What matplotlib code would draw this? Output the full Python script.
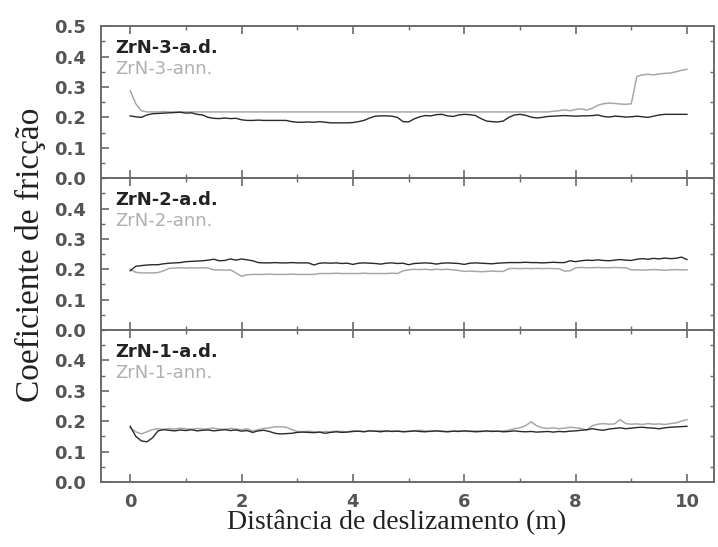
import numpy as np
import matplotlib
matplotlib.use("Agg")
import matplotlib.pyplot as plt
from matplotlib.ticker import MultipleLocator

# distancia de deslizamento (m), amostrada a cada 0.1 m
distancia = np.linspace(0, 10, 101)

# --- ZrN-3 ---
zrn3_ad = [0.205, 0.202, 0.200, 0.208, 0.212, 0.213, 0.214, 0.215, 0.216, 0.217,
           0.214, 0.215, 0.210, 0.208, 0.200, 0.197, 0.196, 0.198, 0.196, 0.197,
           0.192, 0.190, 0.190, 0.191, 0.190, 0.190, 0.190, 0.190, 0.190, 0.186,
           0.184, 0.184, 0.185, 0.184, 0.186, 0.184, 0.182, 0.182, 0.182, 0.182,
           0.183, 0.186, 0.190, 0.198, 0.204, 0.205, 0.205, 0.204, 0.200, 0.186,
           0.185, 0.195, 0.202, 0.206, 0.205, 0.209, 0.210, 0.205, 0.203, 0.208,
           0.210, 0.209, 0.206, 0.196, 0.188, 0.186, 0.185, 0.188, 0.200, 0.208,
           0.210, 0.207, 0.201, 0.198, 0.200, 0.203, 0.204, 0.205, 0.206, 0.205,
           0.204, 0.205, 0.205, 0.206, 0.208, 0.203, 0.201, 0.204, 0.203, 0.201,
           0.202, 0.204, 0.202, 0.200, 0.204, 0.208, 0.210, 0.210, 0.210, 0.210,
           0.210]
zrn3_ann = [0.288, 0.245, 0.222, 0.218, 0.218, 0.218, 0.219, 0.218, 0.218, 0.218,
            0.218, 0.218, 0.218, 0.218, 0.218, 0.218, 0.218, 0.218, 0.218, 0.218,
            0.218, 0.218, 0.218, 0.218, 0.218, 0.218, 0.218, 0.218, 0.218, 0.218,
            0.218, 0.218, 0.218, 0.218, 0.218, 0.218, 0.218, 0.218, 0.218, 0.218,
            0.218, 0.218, 0.218, 0.218, 0.218, 0.218, 0.218, 0.218, 0.218, 0.218,
            0.218, 0.218, 0.218, 0.218, 0.218, 0.218, 0.218, 0.218, 0.218, 0.218,
            0.218, 0.218, 0.218, 0.218, 0.218, 0.218, 0.218, 0.218, 0.218, 0.218,
            0.218, 0.218, 0.218, 0.218, 0.218, 0.218, 0.220, 0.222, 0.225, 0.222,
            0.226, 0.228, 0.224, 0.230, 0.240, 0.245, 0.247, 0.246, 0.244, 0.243,
            0.245, 0.335, 0.340, 0.342, 0.340, 0.343, 0.345, 0.346, 0.350, 0.355,
            0.358]

# --- ZrN-2 ---
zrn2_ad = [0.195, 0.210, 0.212, 0.214, 0.215, 0.215, 0.218, 0.220, 0.221, 0.222,
           0.225, 0.226, 0.227, 0.228, 0.230, 0.233, 0.228, 0.229, 0.234, 0.230,
           0.234, 0.231, 0.228, 0.222, 0.221, 0.221, 0.222, 0.221, 0.221, 0.222,
           0.221, 0.221, 0.221, 0.214, 0.220, 0.221, 0.220, 0.221, 0.219, 0.220,
           0.216, 0.220, 0.221, 0.220, 0.219, 0.217, 0.220, 0.221, 0.219, 0.220,
           0.215, 0.219, 0.220, 0.221, 0.220, 0.217, 0.220, 0.221, 0.220, 0.219,
           0.216, 0.220, 0.221, 0.220, 0.219, 0.218, 0.220, 0.221, 0.222, 0.222,
           0.222, 0.223, 0.222, 0.222, 0.221, 0.222, 0.223, 0.222, 0.222, 0.228,
           0.225, 0.228, 0.230, 0.229, 0.231, 0.229, 0.228, 0.230, 0.232, 0.230,
           0.229, 0.233, 0.235, 0.233, 0.236, 0.234, 0.237, 0.235, 0.236, 0.240,
           0.232]
zrn2_ann = [0.200, 0.190, 0.188, 0.188, 0.188, 0.189, 0.195, 0.203, 0.204, 0.205,
            0.204, 0.205, 0.204, 0.205, 0.204, 0.198, 0.198, 0.197, 0.198, 0.188,
            0.177, 0.182, 0.183, 0.183, 0.183, 0.184, 0.183, 0.183, 0.183, 0.184,
            0.183, 0.183, 0.183, 0.183, 0.186, 0.186, 0.186, 0.187, 0.186, 0.186,
            0.186, 0.186, 0.187, 0.186, 0.186, 0.186, 0.186, 0.187, 0.186, 0.195,
            0.198, 0.200, 0.199, 0.200, 0.198, 0.200, 0.199, 0.200, 0.198, 0.196,
            0.193, 0.194, 0.193, 0.192, 0.193, 0.194, 0.193, 0.193, 0.202, 0.203,
            0.202, 0.203, 0.202, 0.203, 0.202, 0.203, 0.202, 0.202, 0.194, 0.195,
            0.205, 0.206, 0.205, 0.205, 0.206, 0.205, 0.205, 0.206, 0.205, 0.205,
            0.198, 0.198, 0.197, 0.198, 0.199, 0.198, 0.197, 0.198, 0.199, 0.198,
            0.198]

# --- ZrN-1 ---
zrn1_ad = [0.183, 0.150, 0.135, 0.132, 0.145, 0.168, 0.172, 0.170, 0.168, 0.171,
           0.169, 0.172, 0.168, 0.170, 0.171, 0.168, 0.170, 0.172, 0.169, 0.171,
           0.167, 0.169, 0.163, 0.168, 0.170, 0.166, 0.160, 0.158, 0.159, 0.160,
           0.163, 0.164, 0.163, 0.162, 0.164, 0.160, 0.163, 0.165, 0.163, 0.164,
           0.166, 0.167, 0.165, 0.168, 0.167, 0.165, 0.168, 0.166, 0.167, 0.165,
           0.166, 0.168, 0.166, 0.165, 0.167, 0.168, 0.166, 0.165, 0.167, 0.166,
           0.168, 0.167, 0.165, 0.166, 0.168, 0.166, 0.167, 0.165, 0.166, 0.168,
           0.166, 0.165, 0.166, 0.164, 0.165, 0.166, 0.164, 0.166, 0.165, 0.167,
           0.168, 0.170, 0.172, 0.175, 0.172, 0.170, 0.174, 0.176, 0.178, 0.175,
           0.177, 0.179, 0.180, 0.178, 0.177, 0.175, 0.178, 0.180, 0.181, 0.182,
           0.183]
zrn1_ann = [0.178, 0.165, 0.158, 0.165, 0.172, 0.175, 0.173, 0.176, 0.174, 0.177,
            0.175, 0.173, 0.176, 0.174, 0.175, 0.177, 0.174, 0.173, 0.176, 0.174,
            0.172, 0.175, 0.168, 0.172, 0.176, 0.178, 0.181, 0.182, 0.180, 0.172,
            0.166, 0.165, 0.167, 0.165, 0.164, 0.166, 0.165, 0.167, 0.166, 0.165,
            0.168, 0.167, 0.166, 0.168, 0.167, 0.169, 0.166, 0.167, 0.168, 0.166,
            0.167, 0.168, 0.170, 0.168, 0.166, 0.167, 0.168, 0.166, 0.167, 0.168,
            0.167, 0.166, 0.168, 0.167, 0.166, 0.168, 0.167, 0.168, 0.170, 0.175,
            0.178, 0.185, 0.198, 0.185, 0.178, 0.176, 0.178, 0.175, 0.177, 0.180,
            0.178, 0.176, 0.170, 0.185, 0.190, 0.192, 0.190, 0.191, 0.205, 0.192,
            0.190, 0.191, 0.189, 0.192, 0.190, 0.191, 0.189, 0.192, 0.194, 0.200,
            0.205]

paineis = [
    ("ZrN-3-a.d.", "ZrN-3-ann.", zrn3_ad, zrn3_ann),
    ("ZrN-2-a.d.", "ZrN-2-ann.", zrn2_ad, zrn2_ann),
    ("ZrN-1-a.d.", "ZrN-1-ann.", zrn1_ad, zrn1_ann),
]

COR_AD = "#2a2a2a"
COR_ANN = "#a8a8a8"
COR_EIXO = "#6a6a6a"
COR_TICK = "#555555"

fig = plt.figure(figsize=(7.18, 5.47), dpi=100)
axes = fig.subplots(3, 1, sharex=True)
fig.subplots_adjust(left=0.141, right=0.994, top=0.952, bottom=0.119, hspace=0)

for i, (ax, (lab_ad, lab_ann, ad, ann)) in enumerate(zip(axes, paineis)):
    ax.plot(distancia, ann, color=COR_ANN, linewidth=1.1)
    ax.plot(distancia, ad, color=COR_AD, linewidth=1.0)

    ax.set_xlim(-0.52, 10.48)
    ax.set_ylim(0, 0.5)
    if i == 0:
        ax.set_yticks([0.0, 0.1, 0.2, 0.3, 0.4, 0.5])
    else:
        ax.set_yticks([0.0, 0.1, 0.2, 0.3, 0.4])
    ax.yaxis.set_minor_locator(MultipleLocator(0.05))
    ax.xaxis.set_major_locator(MultipleLocator(2))
    ax.xaxis.set_minor_locator(MultipleLocator(1))
    ax.set_yticklabels([f"{v:.1f}" for v in ax.get_yticks()])

    ax.tick_params(axis="both", which="both", direction="in", top=True, right=True,
                   colors=COR_EIXO, labelcolor=COR_TICK, labelsize=13)
    ax.tick_params(axis="both", which="major", length=6, width=1.2)
    ax.tick_params(axis="both", which="minor", length=3, width=1.0)
    ax.tick_params(axis="y", which="major", right=False, pad=11)
    for lbl in ax.get_yticklabels() + ax.get_xticklabels():
        lbl.set_fontweight("bold")
    for sp in ax.spines.values():
        sp.set_color(COR_EIXO)
        sp.set_linewidth(1.4)

    ax.text(0.023, 0.855, lab_ad, transform=ax.transAxes, fontsize=13,
            fontweight="bold", color="#222222", va="center", ha="left")
    ax.text(0.023, 0.72, lab_ann, transform=ax.transAxes, fontsize=13,
            color="#b0b0b0", va="center", ha="left")

axes[-1].set_xticks([0, 2, 4, 6, 8, 10])
axes[-1].set_xticklabels(["0", "2", "4", "6", "8", "10"])
for lbl in axes[-1].get_xticklabels():
    lbl.set_fontweight("bold")
axes[-1].tick_params(axis="x", pad=8)

fig.text(0.552, 0.044, "Distância de deslizamento (m)", ha="center", va="center",
         fontsize=20, family="Liberation Serif", color="#222222")
fig.text(0.042, 0.535, "Coeficiente de fricção", ha="center", va="center",
         rotation=90, fontsize=24, family="Liberation Serif", color="#222222")

fig.savefig("out.png", dpi=100)
